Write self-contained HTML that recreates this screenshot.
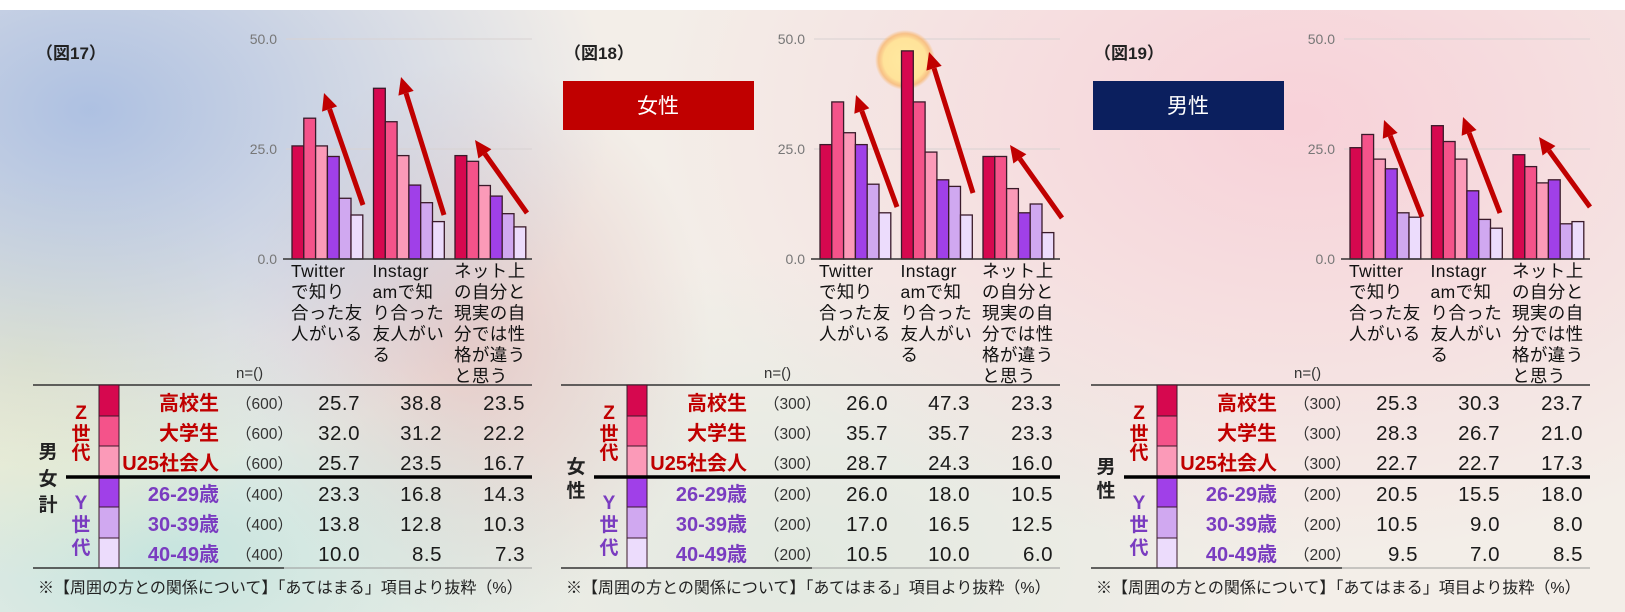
<!DOCTYPE html>
<html><head><meta charset="utf-8">
<style>
html,body{margin:0;padding:0;}
body{width:1625px;height:612px;overflow:hidden;position:relative;
background:
radial-gradient(ellipse 520px 360px at 90px 110px, rgba(170,190,225,0.95), rgba(170,190,225,0) 100%),
radial-gradient(ellipse 260px 220px at 30px 360px, rgba(236,236,200,0.9), rgba(236,236,200,0) 100%),
radial-gradient(ellipse 420px 230px at 170px 560px, rgba(195,228,222,0.95), rgba(195,228,222,0) 100%),
radial-gradient(ellipse 240px 280px at 470px 340px, rgba(220,180,180,0.6), rgba(220,180,180,0) 100%),
radial-gradient(ellipse 650px 440px at 1300px 120px, rgba(248,208,216,0.95), rgba(248,208,216,0) 100%),
radial-gradient(ellipse 500px 300px at 800px 560px, rgba(215,230,220,0.6), rgba(215,230,220,0) 100%),
#f3eee8;
font-family:"Liberation Sans","Noto Sans CJK JP",sans-serif;}
.top{position:absolute;left:0;top:0;width:1625px;height:10px;background:#fff;}
svg{position:absolute;left:0;top:0;}
</style></head><body>
<div class="top"></div>
<svg id="s" width="1625" height="612" xmlns="http://www.w3.org/2000/svg" font-family="Liberation Sans, Noto Sans CJK JP, sans-serif"></svg>
<script>
const S=document.getElementById('s');
let h='';
const cols=['#d6084f','#f4538a','#fb9ab8','#a040e8','#d0a8f0','#ecdcfc'];
const panels=[
 {off:0,fig:'（図17）',data:[[25.7,32.0,25.7,23.3,13.8,10.0],[38.8,31.2,23.5,16.8,12.8,8.5],[23.5,22.2,16.7,14.3,10.3,7.3]],
  n:['600','600','600','400','400','400'],side:['男','女','計'],sideY:[451,478,504],
  arrows:[[363,205,324,93],[444,215,401,77],[527,213,475,140]]},
 {off:528,fig:'（図18）',box:'女性',boxc:'#c00000',data:[[26.0,35.7,28.7,26.0,17.0,10.5],[47.3,35.7,24.3,18.0,16.5,10.0],[23.3,23.3,16.0,10.5,12.5,6.0]],
  n:['300','300','300','200','200','200'],side:['女','性'],sideY:[466,490],
  arrows:[[897,207,856,95],[973,193,929,52],[1062,218,1010,145]],glow:[905,60]},
 {off:1058,fig:'（図19）',box:'男性',boxc:'#0b1f5e',data:[[25.3,28.3,22.7,20.5,10.5,9.5],[30.3,26.7,22.7,15.5,9.0,7.0],[23.7,21.0,17.3,18.0,8.0,8.5]],
  n:['300','300','300','200','200','200'],side:['男','性'],sideY:[466,490],
  arrows:[[1422,217,1384,120],[1500,213,1463,117],[1590,207,1539,137]]}
];
const cats=[['Twitter','で知り','合った友','人がいる'],['Instagr','amで知','り合った','友人がい','る'],['ネット上','の自分と','現実の自','分では性','格が違う','と思う']];
const rl=['高校生','大学生','U25社会人','26-29歳','30-39歳','40-49歳'];
const rowTop=[385,416,446,477,507,538,568];
const Y0=259,K=4.4;
h+='<defs><radialGradient id="gl"><stop offset="0" stop-color="#ffe9a0"/><stop offset="0.72" stop-color="#ffe39a"/><stop offset="0.88" stop-color="#f8b870" stop-opacity="0.8"/><stop offset="1" stop-color="#f8b870" stop-opacity="0"/></radialGradient></defs>';
panels.forEach(p=>{
 const o=p.off;
 h+=`<text x="${o+36}" y="59" font-size="17" font-weight="bold" fill="#222">${p.fig}</text>`;
 if(p.box){h+=`<rect x="${o+35}" y="81" width="191" height="49" fill="${p.boxc}"/><text x="${o+130}" y="113" font-size="21" fill="#fff" text-anchor="middle">${p.box}</text>`;}
 [[50,'50.0'],[25,'25.0'],[0,'0.0']].forEach(([v,t])=>{const y=Y0-v*K;
   h+=`<text x="${o+277}" y="${y+5}" font-size="14" fill="#777" text-anchor="end">${t}</text>`;
   if(v>0)h+=`<line x1="${o+286}" y1="${y}" x2="${o+532}" y2="${y}" stroke="#d8d2d2" stroke-width="1"/>`;});
 if(p.glow)h+=`<circle cx="${p.glow[0]}" cy="${p.glow[1]}" r="30" fill="url(#gl)"/>`;
 p.data.forEach((g,gi)=>{const gx=o+292+gi*81.5;
  g.forEach((v,bi)=>{const x=gx+bi*11.8,hh=v*K;
   h+=`<rect x="${x}" y="${Y0-hh}" width="11.8" height="${hh}" fill="${cols[bi]}" stroke="#3a1a2a" stroke-width="1.3"/>`;});
  cats[gi].forEach((l,li)=>{h+=`<text x="${gx-1}" y="${277+li*21}" font-size="17.5" letter-spacing="0.4" fill="#111">${l}</text>`;});
 });
 h+=`<line x1="${o+283}" y1="${Y0}" x2="${o+532}" y2="${Y0}" stroke="#333" stroke-width="1.5"/>`;
 p.arrows.forEach(a=>{const[x1,y1,x2,y2]=a;const dx=x2-x1,dy=y2-y1,L=Math.hypot(dx,dy),ux=dx/L,uy=dy/L;
  const bx=x2-ux*17,by=y2-uy*17,px=-uy,py=ux;
  h+=`<line x1="${x1}" y1="${y1}" x2="${bx}" y2="${by}" stroke="#c00000" stroke-width="5"/>`;
  h+=`<polygon points="${x2},${y2} ${bx+px*8},${by+py*8} ${bx-px*8},${by-py*8}" fill="#c00000"/>`;});
 h+=`<text x="${o+236}" y="378" font-size="15" fill="#333">n=()</text>`;
 h+=`<line x1="${o+33}" y1="385" x2="${o+532}" y2="385" stroke="#333" stroke-width="1.5"/>`;
 for(let r=0;r<6;r++){
  h+=`<rect x="${o+99}" y="${rowTop[r]}" width="20" height="${rowTop[r+1]-rowTop[r]}" fill="${cols[r]}" stroke="#3a1a2a" stroke-width="1"/>`;
  const cy=[403,433,463,494,524,554][r];const c=r<3?'#c00000':'#7a3cc0';
  h+=`<text x="${o+219}" y="${cy+7}" font-size="20" font-weight="bold" fill="${c}" text-anchor="end">${rl[r]}</text>`;
  h+=`<text x="${o+236}" y="${cy+6}" font-size="15.5" fill="#333">（${p.n[r]}）</text>`;
  [360,442,525].forEach((x,ci)=>{h+=`<text x="${o+x}" y="${cy+7}" font-size="20.5" letter-spacing="0.5" fill="#1a1a1a" text-anchor="end">${p.data[ci][r].toFixed(1)}</text>`;});
 }
 h+=`<line x1="${o+66}" y1="477" x2="${o+532}" y2="477" stroke="#000" stroke-width="3.5"/>`;
 h+=`<line x1="${o+33}" y1="568" x2="${o+284}" y2="568" stroke="#333" stroke-width="1.5"/>`;
 h+=`<line x1="${o+284}" y1="568" x2="${o+532}" y2="568" stroke="#999" stroke-width="1"/>`;
 [['Z',412],['世',433],['代',452]].forEach(([t,y])=>{h+=`<text x="${o+81}" y="${y+7}" font-size="19" font-weight="bold" fill="#c00000" text-anchor="middle">${t}</text>`;});
 [['Y',502],['世',524],['代',547]].forEach(([t,y])=>{h+=`<text x="${o+81}" y="${y+7}" font-size="19" font-weight="bold" fill="#7a3cc0" text-anchor="middle">${t}</text>`;});
 p.side.forEach((t,i)=>{h+=`<text x="${o+48}" y="${p.sideY[i]+7}" font-size="19" font-weight="bold" fill="#222" text-anchor="middle">${t}</text>`;});
 h+=`<text x="${o+38}" y="593" font-size="16" fill="#222">※【周囲の方との関係について】「あてはまる」項目より抜粋（%）</text>`;
});
S.innerHTML=h;
</script>
</body></html>
